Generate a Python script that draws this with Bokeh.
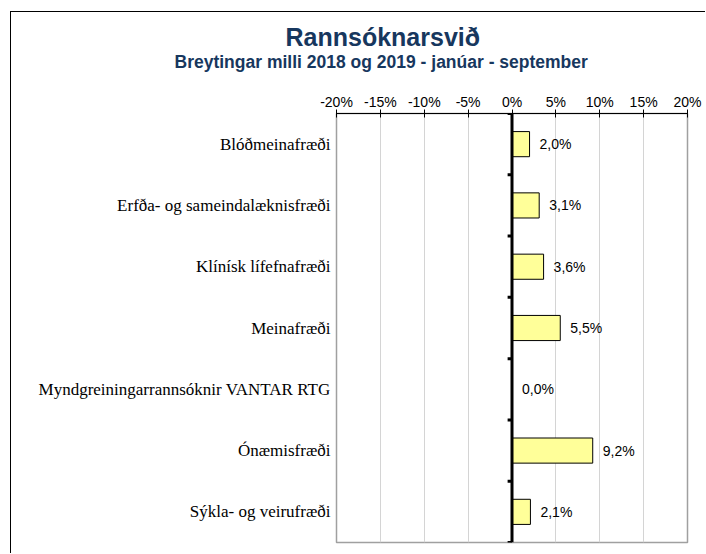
from bokeh.plotting import figure
from bokeh.models import Range1d, FixedTicker, PrintfTickFormatter, Span, Title
from bokeh.core.properties import value
from bokeh.embed import file_html
from bokeh.resources import INLINE

# Data: change between 2018 and 2019 (Jan-Sep), per department, in percent
categories = [
    "Blóðmeinafræði",
    "Erfða- og sameindalæknisfræði",
    "Klínísk lífefnafræði",
    "Meinafræði",
    "Myndgreiningarrannsóknir VANTAR RTG",
    "Ónæmisfræði",
    "Sýkla- og veirufræði",
]
change_pct = [2.0, 3.1, 3.6, 5.5, 0.0, 9.2, 2.1]
x_ticks = [-20, -15, -10, -5, 0, 5, 10, 15, 20]
title_text = "Rannsóknarsvið"
subtitle_text = "Breytingar milli 2018 og 2019 - janúar - september"

n = len(categories)
ypos = [n - 1 - i for i in range(n)]          # first category on top
labels = [f"{v:.1f}".replace(".", ",") + "%" for v in change_pct]
boundaries = [k - 0.5 for k in range(n + 1)]

NAVY = "#17375E"
SANS = "Liberation Sans"
SERIF = "Liberation Serif"

p = figure(
    width=695, height=542,
    x_range=Range1d(x_ticks[0], x_ticks[-1]),
    y_range=Range1d(-0.5, n - 0.5),
    x_axis_location="above",
    output_backend="svg", toolbar_location=None,
    min_border_left=325, min_border_right=19,
    min_border_top=101, min_border_bottom=12,
    styles={
        "margin-left": "10px", "margin-top": "11px",
        "border-left": "1.5px solid #000", "border-top": "1.5px solid #000",
    },
)
p.background_fill_color = "white"
p.border_fill_color = "white"
p.outline_line_color = "#a0a0a0"
p.outline_line_width = 1.5

# Top percentage axis
xa = p.xaxis[0]
xa.ticker = FixedTicker(ticks=x_ticks)
xa.formatter = PrintfTickFormatter(format="%d%%")
xa.axis_line_color = "black"
xa.major_tick_line_color = "black"
xa.major_tick_in = 4
xa.major_tick_out = 4
xa.minor_tick_line_color = None
xa.major_label_text_font = SANS
xa.major_label_text_font_size = "14px"
xa.major_label_text_color = "black"
xa.major_label_standoff = 0

# Category axis on the left
ya = p.yaxis[0]
ya.ticker = FixedTicker(ticks=ypos)
ya.major_label_overrides = {y: c for y, c in zip(ypos, categories)}
ya.axis_line_color = None
ya.major_tick_line_color = None
ya.minor_tick_line_color = None
ya.major_tick_out = 0
ya.major_label_standoff = 6
ya.major_label_text_font = SERIF
ya.major_label_text_font_size = "17px"
ya.major_label_text_color = "black"

p.xgrid.ticker = FixedTicker(ticks=x_ticks)
p.xgrid.grid_line_color = "#d4d4d4"
p.ygrid.grid_line_color = None

# Bars
p.hbar(y=ypos, left=0, right=change_pct, height=0.41,
       fill_color="#FFFF99", line_color="black", line_width=1)

# Value labels
p.text(x=change_pct, y=ypos, text=labels, x_offset=10,
       text_baseline="middle", text_align="left",
       text_font=value(SANS), text_font_size="14px", text_color="black")

# Zero line with category separator ticks
p.add_layout(Span(location=0, dimension="height", line_color="black", line_width=3))
p.segment(x0=[-0.5] * len(boundaries), y0=boundaries, x1=[0] * len(boundaries), y1=boundaries,
          line_color="black", line_width=3)

# Titles stacked above the top axis (subtitle first, so it sits closer to the axis)
p.add_layout(Title(text=subtitle_text, align="left", offset=-162, standoff=38,
                   text_font=SANS, text_font_style="bold", text_font_size="17.5px",
                   text_color=NAVY), "above")
p.add_layout(Title(text=title_text, align="left", offset=-51, standoff=-40,
                   text_font=SANS, text_font_style="bold", text_font_size="25px",
                   text_color=NAVY), "above")

open("out.html", "w").write(file_html(p, INLINE))
